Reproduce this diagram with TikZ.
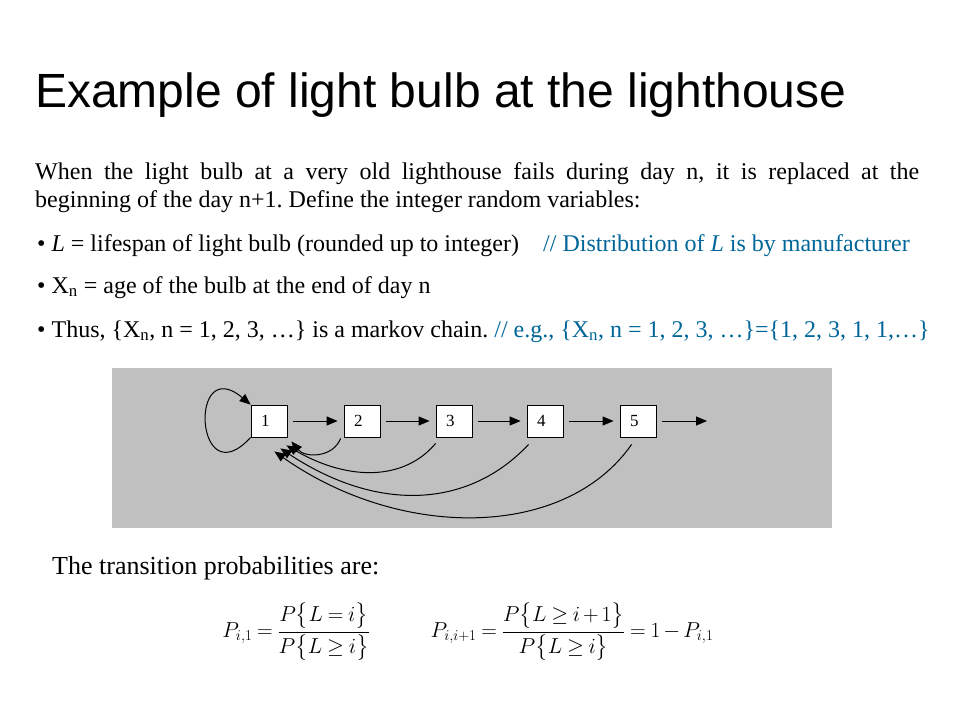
\documentclass[tikz,border=0pt]{standalone}
\usepackage{amsmath}
\usepackage{graphicx}
\usepackage{fontspec}
\setmainfont{Liberation Serif}
\newfontfamily\titlefont{Liberation Sans}
\usepackage{xcolor}
\usetikzlibrary{arrows.meta,calc}
\definecolor{notecol}{RGB}{0,102,153}
\definecolor{boxgray}{RGB}{192,192,192}
\newcommand{\probform}[1]{\scalebox{0.87}{\thickmuskip=4mu\medmuskip=2.5mu$#1$}}
\frenchspacing
\tikzset{
  state/.style={draw, fill=white, line width=0.8pt, minimum width=36pt, minimum height=32pt,
    inner xsep=10pt, inner ysep=0pt, text width=16pt, align=left, font=\fontsize{17}{17}\selectfont},
  link/.style={-{Triangle[length=11pt,width=9pt]}, line width=1pt},
  body/.style={anchor=base west, inner sep=0pt, font=\fontsize{24}{28}\selectfont},
  formula/.style={inner sep=0pt, font=\fontsize{25}{30}\selectfont}
}

\begin{document}
\begin{tikzpicture}[x=1pt,y=-1pt]
\useasboundingbox (0,0) rectangle (960,720);

% Title and text
\node[anchor=base west, inner sep=0pt, font=\titlefont\fontsize{48}{48}\selectfont] (title) at (35,107) {Example of light bulb at the lighthouse};
\node[body] (intro1) at (35,179) {\makebox[884pt][s]{When the light bulb at a very old lighthouse fails during day n, it is replaced at the}};
\node[body] (intro2) at (35,207) {beginning of the day n+1. Define the integer random variables:};
\node[body] (item1) at (37,251) {\textbullet{} \textit{L} = lifespan of light bulb (rounded up to integer)};
\node[body, text=notecol] (note1) at (543,251) {// Distribution of \textit{L} is by manufacturer};
\node[body] (item2) at (37,293) {\textbullet{} X\textsubscript{n} = age of the bulb at the end of day n};
\node[body] (item3) at (37,337) {\textbullet{} Thus, \{X\textsubscript{n}, n = 1, 2, 3, …\} is a markov chain. \textcolor{notecol}{// e.g., \{X\textsubscript{n}, n = 1, 2, 3, …\}=\{1, 2, 3, 1, 1,…\}}};

% Gray panel with the chain
\fill[boxgray] (112,368) rectangle (832,528);

\foreach \i/\x in {1/269, 2/362, 3/454, 4/545, 5/638} {
    \node[state] (b\i) at (\x,421) {\i};
}
\coordinate (out) at (707,421);

% Forward steps
\foreach \i/\j in {1/2, 2/3, 3/4, 4/5} {
    \draw[link, shorten <=6pt, shorten >=6pt] (b\i) -- (b\j);
}
\draw[link, shorten <=6pt] (b5) -- (out);

% Back to state 1
\draw[link] (b1.south west) .. controls (195,498) and (188,352) .. (b1.north west);
\draw[link] ($(b2.south west)+(-3,1)$) .. controls (333,458) and (305,458) .. ($(b1.south east)+(4,4)$);
\draw[link] ($(b3.south west)+(0,6)$) .. controls (405,480) and (350,482) .. ($(b1.south east)+(-1,8)$);
\draw[link] ($(b4.south west)+(2,7)$) .. controls (470,507) and (380,514) .. ($(b1.south east)+(-7,11)$);
\draw[link] ($(b5.south west)+(12,7)$) .. controls (565,540) and (400,540) .. ($(b1.south east)+(-13,14)$);

% Transition probabilities
\node[body, font=\fontsize{26}{30}\selectfont] (trans) at (52,574) {The transition probabilities are:};
\node[formula] (p1) at (296,632) {\probform{P_{i,1}=\dfrac{P\bigl\{L=i\bigr\}}{P\bigl\{L\geq i\bigr\}}}};
\node[formula] (p2) at (572,632) {\probform{P_{i,i+1}=\dfrac{P\bigl\{L\geq i+1\bigr\}}{P\bigl\{L\geq i\bigr\}}=1-P_{i,1}}};

\end{tikzpicture}
\end{document}
